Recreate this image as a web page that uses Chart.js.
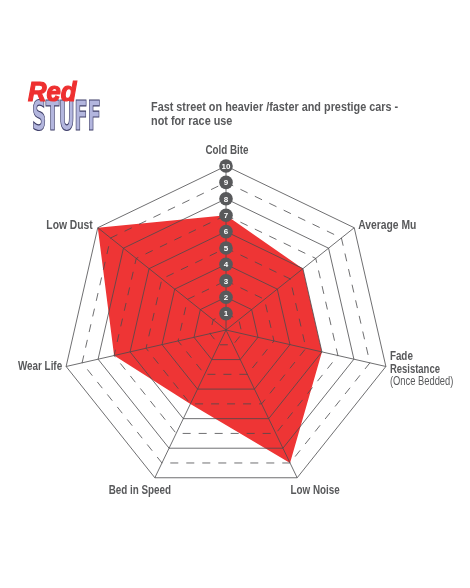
<!DOCTYPE html>
<html>
<head>
<meta charset="utf-8">
<script src="https://cdn.jsdelivr.net/npm/chart.js@4"></script>
<style>
html,body{margin:0;padding:0;background:#fff;width:470px;height:588px;overflow:hidden}
#wrap{position:absolute;left:0;top:0;width:470px;height:588px}
.logo{position:absolute;white-space:nowrap;transform-origin:0 0;line-height:1}
#red{left:28px;top:77px;font:italic 700 27px "Liberation Sans",sans-serif;color:#ee3030;-webkit-text-stroke:1.2px #ee3030;transform:scaleX(.95);z-index:2}
#stuff{left:32px;top:92px;font:700 20px "DejaVu Sans",sans-serif;color:#b3b6de;-webkit-text-stroke:.6px #40406a;transform:scale(.99,2.02);letter-spacing:-.5px}
#note{position:absolute;left:151px;top:100px;font:700 12.2px/14.4px "Liberation Sans",sans-serif;color:#58595b;white-space:nowrap;transform-origin:0 0;transform:scaleX(.89)}
</style>
</head>
<body>
<div id="wrap">
<canvas id="c" width="470" height="588"></canvas>
<div class="logo" id="stuff">STUFF</div>
<div class="logo" id="red">Red</div>
<div id="note">Fast street on heavier /faster and prestige cars -<br>not for race use</div>
</div>
<script>
const categories = ["Cold Bite","Average Mu","Fade Resistance","Low Noise","Bed in Speed","Wear Life","Low Dust"];
const ratings = [7,6,6,9,5,7,10];
const tickValues = [1,2,3,4,5,6,7,8,9,10];

const GREY = "#58595b";
const labelFont = '700 12px "Liberation Sans",sans-serif';
const subFont = '400 12px "Liberation Sans",sans-serif';

// text layout for each axis label, relative to the axis end
const labelStyles = [
  {align:"center",dx:1,dy:-15,lines:[["Cold Bite",labelFont,.82]]},
  {align:"left",dx:4,dy:-2,lines:[["Average Mu",labelFont,.86]]},
  {align:"left",dx:4,dy:-9.5,lines:[["Fade",labelFont,.82],["Resistance",labelFont,.79],["(Once Bedded)",subFont,.78]]},
  {align:"center",dx:18,dy:13,lines:[["Low Noise",labelFont,.82]]},
  {align:"center",dx:-15,dy:13,lines:[["Bed in Speed",labelFont,.82]]},
  {align:"right",dx:-4,dy:0,lines:[["Wear Life",labelFont,.82]]},
  {align:"right",dx:-5,dy:-2,lines:[["Low Dust",labelFont,.86]]}
];

const overlay = {
  id:"overlay",
  afterDraw(chart){
    const s = chart.scales.r, ctx = chart.ctx;
    ctx.save();
    tickValues.forEach(v=>{
      const d = s.getDistanceFromCenterForValue(v);
      const p = s.getPointPosition(0,d);
      ctx.beginPath();
      ctx.arc(p.x,p.y,6.8,0,Math.PI*2);
      ctx.fillStyle = GREY;
      ctx.fill();
      ctx.fillStyle = "#fff";
      ctx.font = '700 8px "Liberation Sans",sans-serif';
      ctx.textAlign = "center";
      ctx.textBaseline = "middle";
      ctx.fillText(String(v),p.x,p.y+.5);
    });
    ctx.fillStyle = GREY;
    ctx.textBaseline = "middle";
    labelStyles.forEach((st,i)=>{
      const p = s.getPointPosition(i,s.drawingArea);
      ctx.textAlign = st.align;
      st.lines.forEach((ln,k)=>{
        ctx.save();
        ctx.translate(p.x+st.dx,p.y+st.dy+k*12.5);
        ctx.scale(ln[2],1);
        ctx.font = ln[1];
        ctx.fillText(ln[0],0,0);
        ctx.restore();
      });
    });
    ctx.restore();
  }
};

new Chart(document.getElementById("c"),{
  type:"radar",
  data:{labels:categories,datasets:[{
    data:ratings,
    backgroundColor:"#ee3535",
    borderWidth:0,
    borderColor:"#ee3535",
    pointRadius:0,
    fill:true,
    tension:0
  }]},
  options:{
    responsive:false,
    animation:false,
    devicePixelRatio:1,
    layout:{padding:{left:62,right:80,top:166.5,bottom:93.5}},
    plugins:{legend:{display:false},tooltip:{enabled:false},title:{display:false}},
    scales:{r:{
      min:0,max:10,
      ticks:{stepSize:1,display:false,z:1},
      pointLabels:{display:false},
      angleLines:{display:true,color:"#4a4a4c",lineWidth:.8},
      grid:{color:"#4a4a4c",lineWidth:.8,z:1},
      border:{dash:ctx=>(ctx.tick&&ctx.tick.value%2===1)?[8,8]:[]}
    }}
  },
  plugins:[overlay]
});
</script>
</body>
</html>
